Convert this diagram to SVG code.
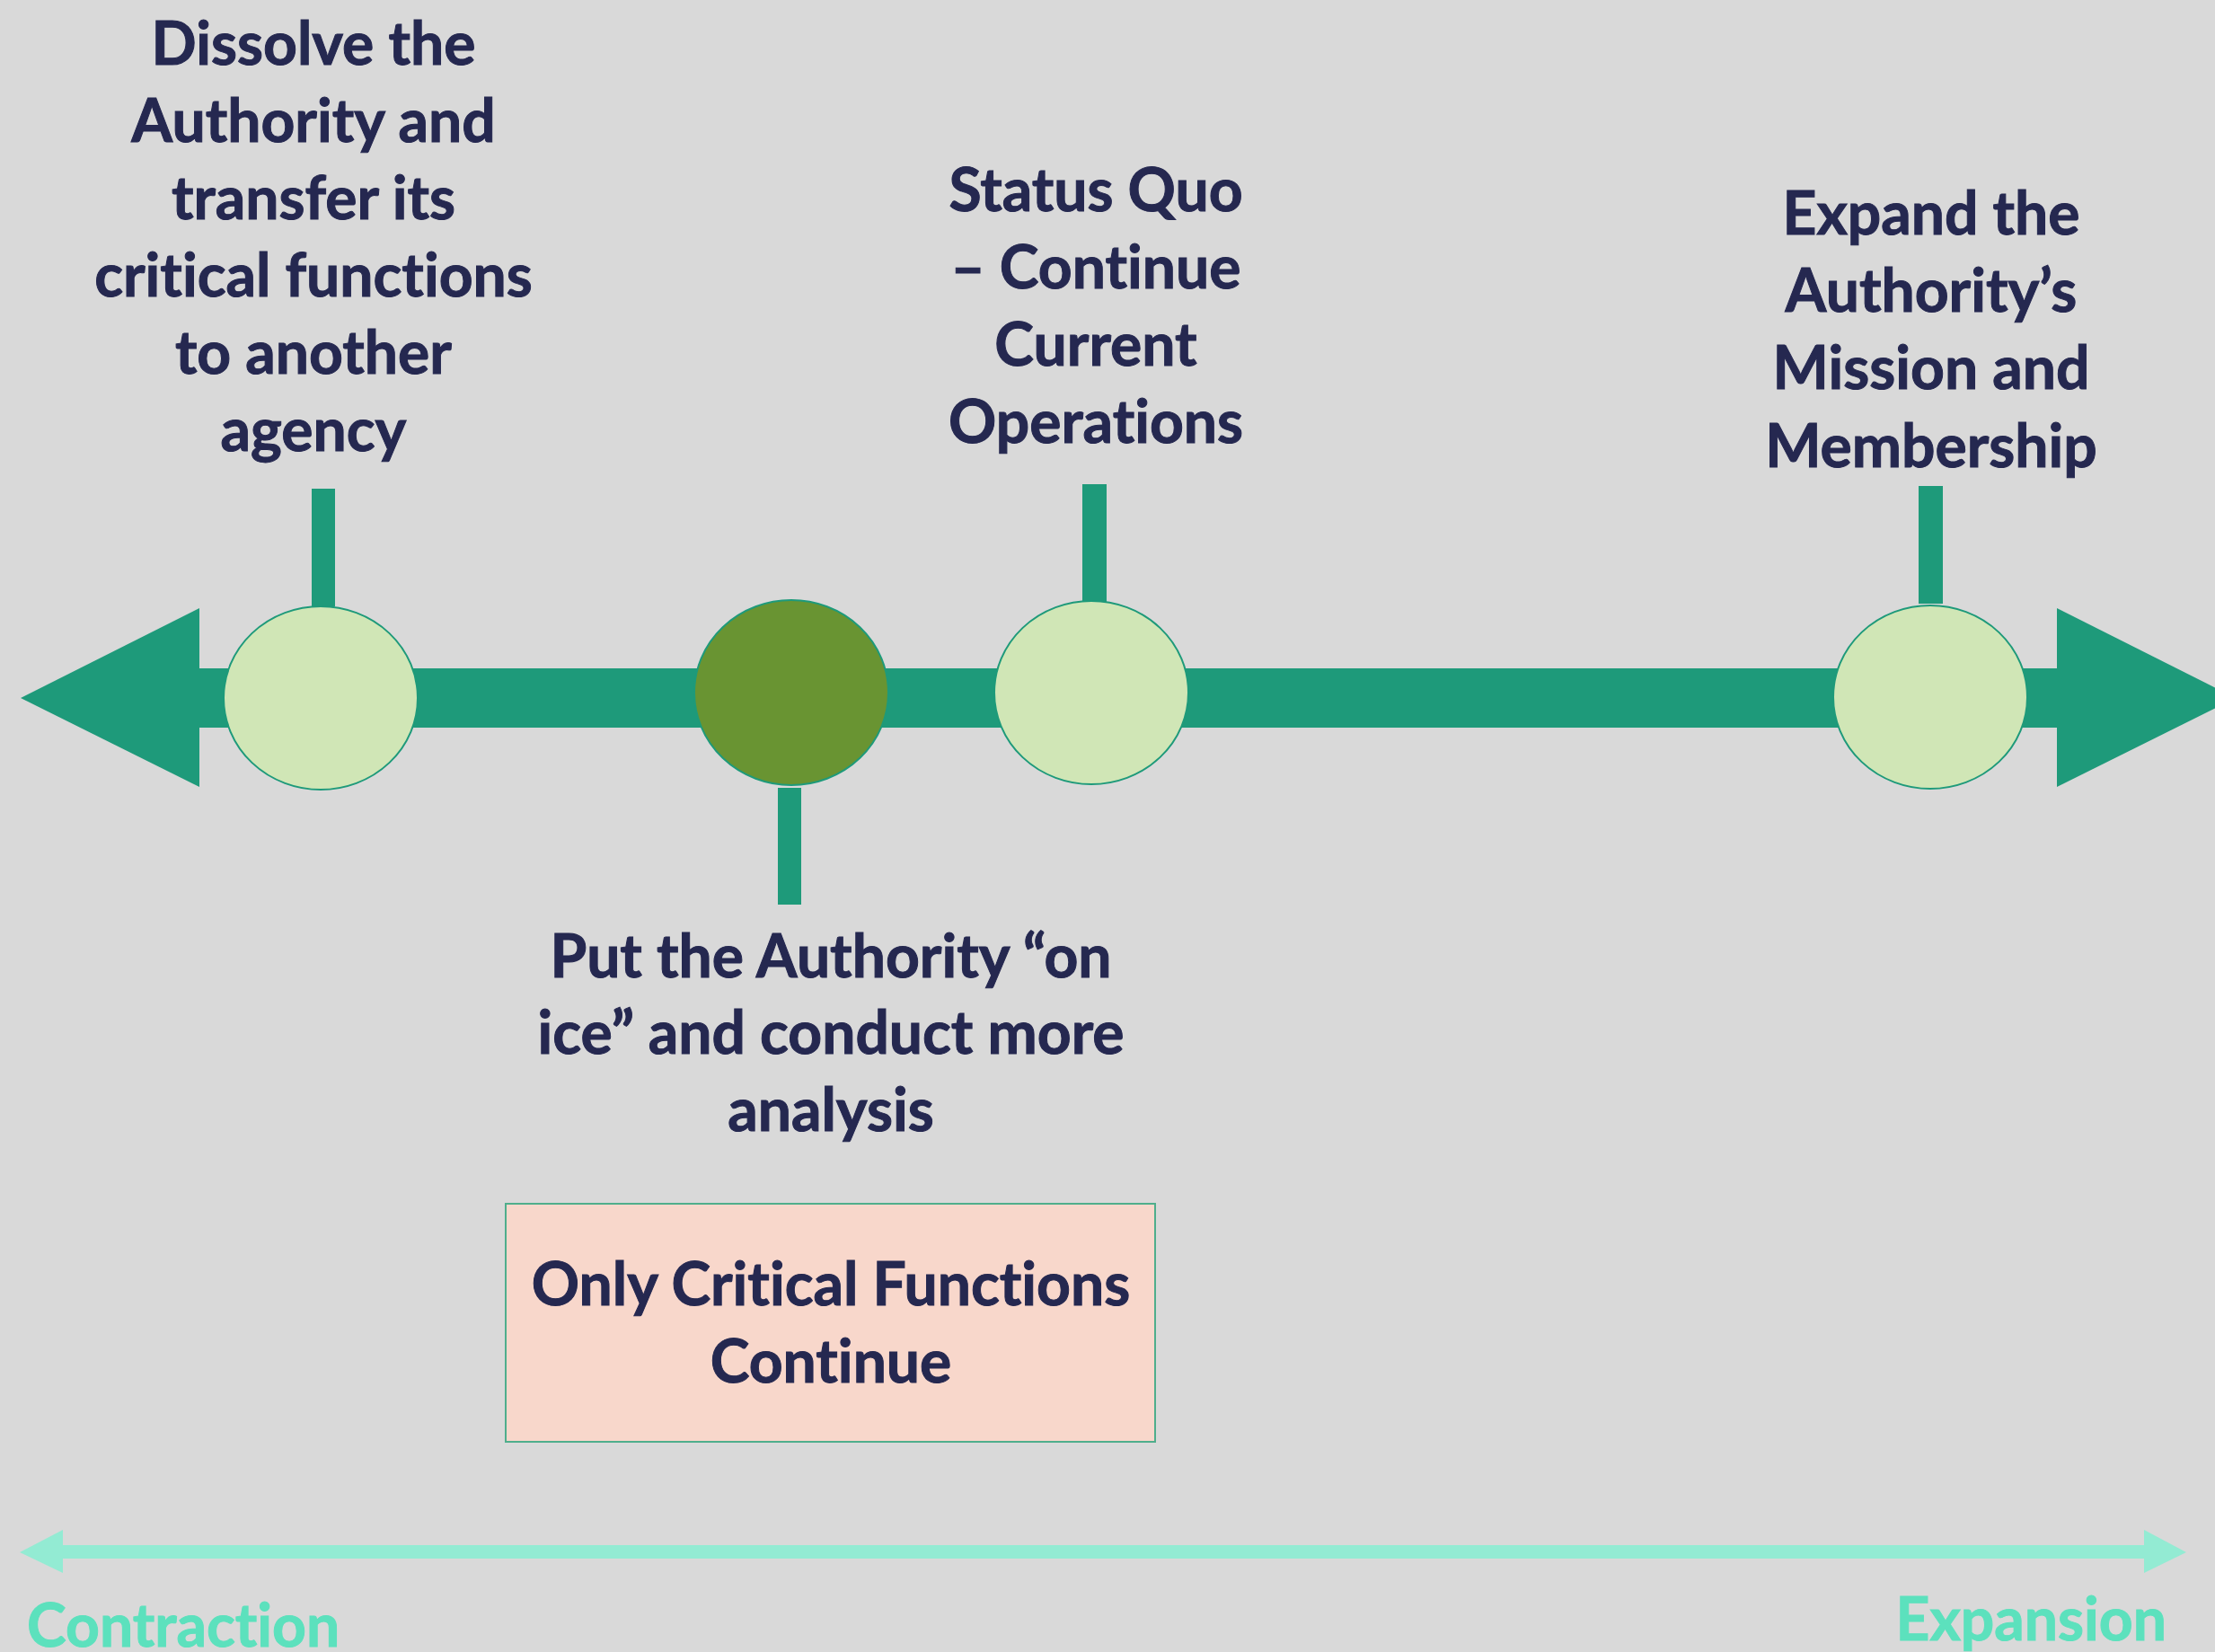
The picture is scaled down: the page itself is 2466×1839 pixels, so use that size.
<svg xmlns="http://www.w3.org/2000/svg" width="2466" height="1839" viewBox="0 0 2466 1839">
  <style>
    .lbl { font-family: Lato, "Liberation Sans", sans-serif; font-weight: 700; font-size: 66px; fill: #252850; stroke: #252850; stroke-width: 1; text-anchor: middle; font-variant-ligatures: none; }
    .axis { fill: #1E9A7A; }
    .node { fill: #D0E6B6; stroke: #1E9A7A; stroke-width: 2; }
    .nodeDark { fill: #699432; stroke: #1E9A7A; stroke-width: 2; }
    .scale { fill: #93EBD3; }
    .scaleTxt { font-family: Lato, "Liberation Sans", sans-serif; font-weight: 700; font-size: 66px; fill: #5CE1BD; stroke: #5CE1BD; stroke-width: 1; font-variant-ligatures: none; }
  </style>
  <rect x="0" y="0" width="2466" height="1839" fill="#D9D9D9"/>

  <g id="connectors">
    <rect class="axis" x="222" y="744" width="2068" height="66"/>
    <polygon class="axis" points="23,777 222,677 222,876"/>
    <polygon class="axis" points="2290,677 2489,777 2290,876"/>
    <rect class="axis" x="347" y="544" width="26" height="131"/>
    <rect class="axis" x="866" y="877" width="26" height="130"/>
    <rect class="axis" x="1205" y="539" width="27" height="131"/>
    <rect class="axis" x="2136" y="541" width="27" height="131"/>
    <rect class="scale" x="68" y="1720" width="2321" height="15"/>
    <polygon class="scale" points="22,1728 70,1703 70,1751"/>
    <polygon class="scale" points="2387,1703 2434,1728 2387,1751"/>
  </g>

  <g id="node-dissolve">
    <ellipse class="node" cx="357" cy="777" rx="108" ry="102"/>
    <text class="lbl" x="349" y="72">Dissolve the</text>
    <text class="lbl" x="349" y="158">Authority and</text>
    <text class="lbl" x="349" y="244">transfer its</text>
    <text class="lbl" x="349" y="330">critical functions</text>
    <text class="lbl" x="349" y="416">to another</text>
    <text class="lbl" x="349" y="502">agency</text>
  </g>

  <g id="node-onice">
    <ellipse class="nodeDark" cx="881" cy="771" rx="108" ry="103"/>
    <text class="lbl" x="925" y="1088">Put the Authority “on</text>
    <text class="lbl" x="925" y="1173">ice” and conduct more</text>
    <text class="lbl" x="925" y="1259">analysis</text>
  </g>

  <g id="node-statusquo">
    <ellipse class="node" cx="1215" cy="771" rx="108" ry="102"/>
    <text class="lbl" x="1220" y="235">Status Quo</text>
    <text class="lbl" x="1220" y="321">– Continue</text>
    <text class="lbl" x="1220" y="407">Current</text>
    <text class="lbl" x="1220" y="493">Operations</text>
  </g>

  <g id="node-expand">
    <ellipse class="node" cx="2149" cy="776" rx="108" ry="102"/>
    <text class="lbl" x="2150" y="261">Expand the</text>
    <text class="lbl" x="2150" y="347">Authority’s</text>
    <text class="lbl" x="2150" y="433">Mission and</text>
    <text class="lbl" x="2150" y="520">Membership</text>
  </g>

  <g id="node-critical">
    <rect x="563" y="1340" width="723" height="265" fill="#F8D7CB" stroke="#4FAE8C" stroke-width="2"/>
    <text class="lbl" x="925" y="1453">Only Critical Functions</text>
    <text class="lbl" x="925" y="1539">Continue</text>
  </g>

  <g id="scale-labels">
    <text class="scaleTxt" x="30" y="1833">Contraction</text>
    <text class="scaleTxt" x="2412" y="1826" text-anchor="end">Expansion</text>
  </g>
</svg>
